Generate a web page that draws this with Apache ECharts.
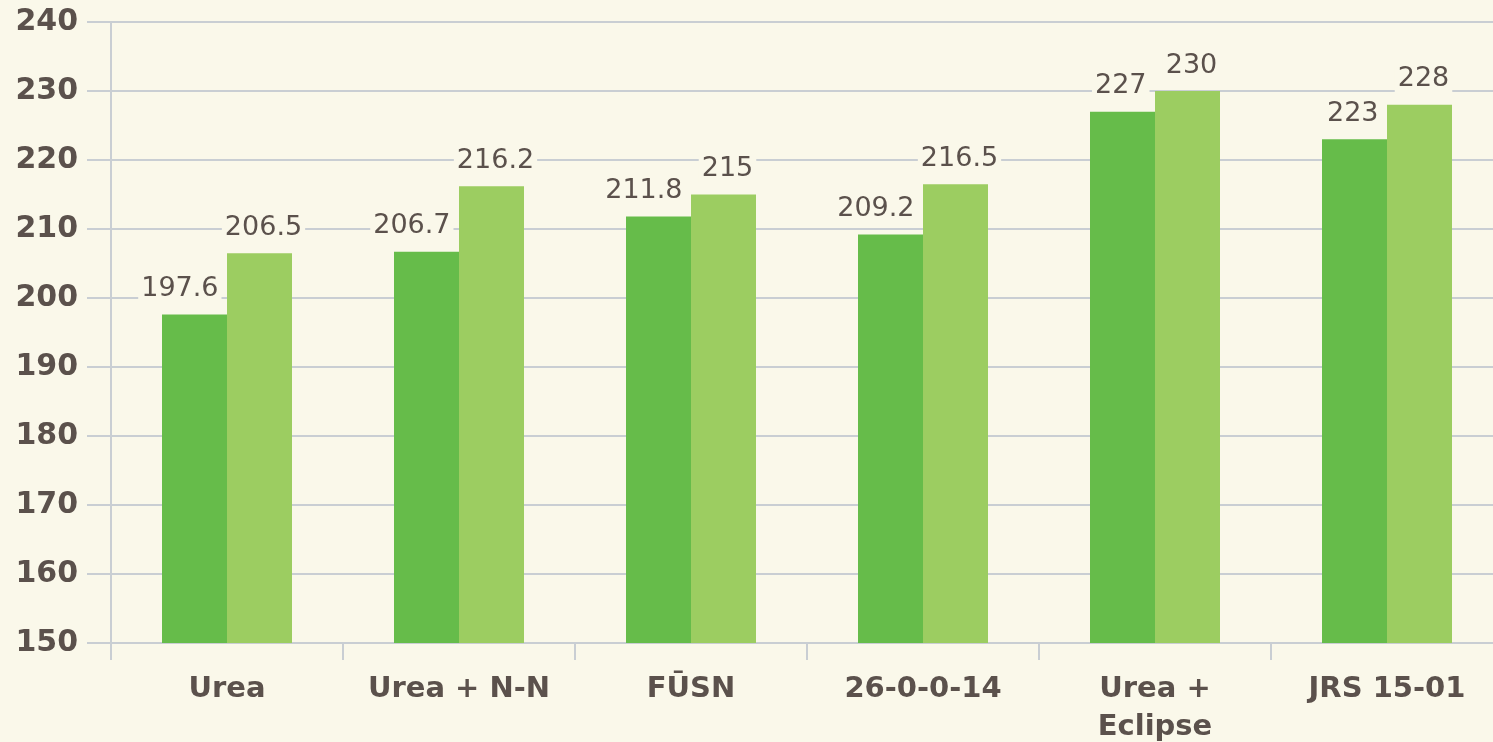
<!DOCTYPE html>
<html>
<head>
<meta charset="utf-8">
<script src="https://cdn.jsdelivr.net/npm/echarts@6/dist/echarts.min.js"></script>
<style>
  html, body { margin: 0; padding: 0; background: #faf8ea; }
  #chart { width: 1493px; height: 742px; }
</style>
</head>
<body>
<div id="chart"></div>
<script>
const categories = ['Urea', 'Urea + N-N', 'FŪSN', '26-0-0-14', 'Urea +\nEclipse', 'JRS 15-01'];
const darkValues = [197.6, 206.7, 211.8, 209.2, 227, 223];
const lightValues = [206.5, 216.2, 215, 216.5, 230, 228];

const bg = '#faf8ea';
const textColor = '#5b514c';
const gridColor = '#c9ced3';
const font = 'DejaVu Sans';

const chart = echarts.init(document.getElementById('chart'), null, { renderer: 'canvas' });

// labels sit a little off-centre in the original: dark ones hug the right edge
const baseLabel = {
    show: true,
    position: 'top',
    distance: 12,
    color: textColor,
    fontFamily: font,
    fontSize: 27,
    backgroundColor: bg,
    padding: [0, 3, 0, 3],
    formatter: (p) => String(p.value),
};

chart.setOption({
    animation: false,
    backgroundColor: bg,
    textStyle: { fontFamily: font },
    grid: {
        left: 111, top: 22, width: 1392, bottom: 99,
        containLabel: false,
        outerBoundsMode: 'none',
    },
    xAxis: {
        type: 'category',
        data: categories,
        axisLine: { lineStyle: { color: gridColor, width: 2 } },
        axisTick: { show: true, interval: 0, length: 17, lineStyle: { color: gridColor, width: 2 } },
        axisLabel: {
            interval: 0,
            hideOverlap: false,
            color: textColor,
            fontFamily: font,
            fontWeight: 'bold',
            fontSize: 29,
            margin: 27,
            lineHeight: 38,
        },
    },
    yAxis: {
        type: 'value',
        min: 150,
        max: 240,
        interval: 10,
        axisLine: { show: true, lineStyle: { color: gridColor, width: 2 } },
        axisTick: { show: true, length: 24, lineStyle: { color: gridColor, width: 2 } },
        splitLine: { lineStyle: { color: gridColor, width: 2 } },
        axisLabel: {
            color: textColor,
            fontFamily: font,
            fontWeight: 'bold',
            fontSize: 30,
            margin: 33,
        },
    },
    series: [
        {
            name: 'A',
            type: 'bar',
            data: darkValues,
            barWidth: 65,
            barGap: '0%',
            itemStyle: { color: '#66bc4a' },
            label: { ...baseLabel, align: 'right', offset: [27, 0] },
        },
        {
            name: 'B',
            type: 'bar',
            data: lightValues,
            barWidth: 65,
            barGap: '0%',
            itemStyle: { color: '#9ccd61' },
            label: { ...baseLabel, offset: [4, 0] },
        },
    ],
});
</script>
</body>
</html>
